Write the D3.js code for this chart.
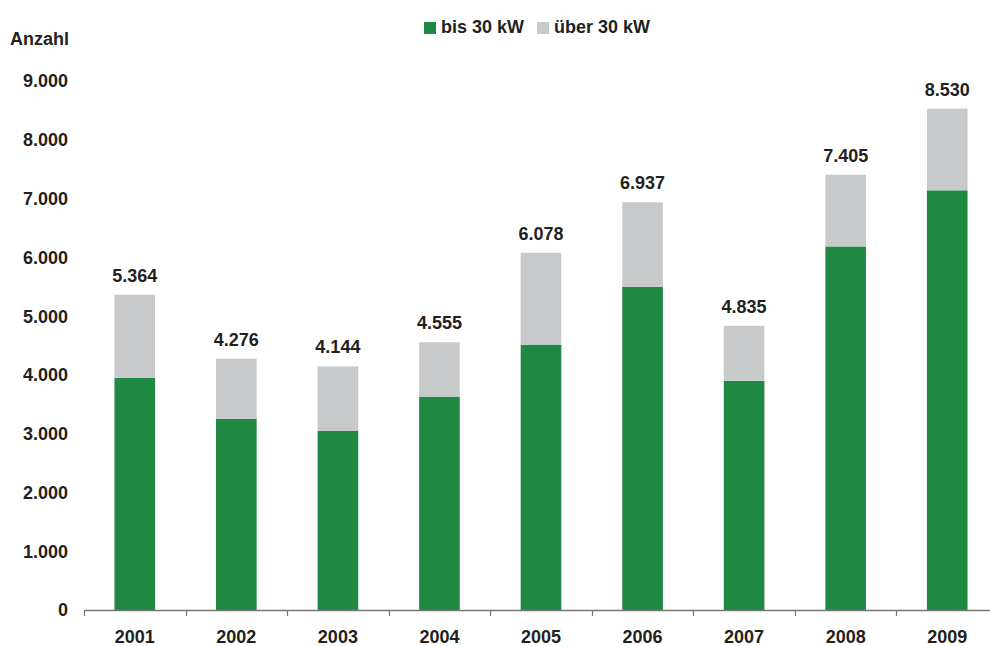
<!DOCTYPE html>
<head>
  <meta charset="utf-8">
  <script src="https://d3js.org/d3.v7.min.js"></script>
  <style>
    body { margin: 0; background: #fff; }
    text { font-family: "Liberation Sans", Arial, sans-serif; font-weight: bold; fill: #231f20; }
  </style>
</head>
<body>
  <div id="chart"></div>
  <script>
    var years = ["2001", "2002", "2003", "2004", "2005", "2006", "2007", "2008", "2009"];
    var bis30 = [3950, 3255, 3050, 3630, 4515, 5500, 3900, 6185, 7140];
    var totals = [5364, 4276, 4144, 4555, 6078, 6937, 4835, 7405, 8530];
    var ueber30 = totals.map(function(t, i) { return t - bis30[i]; });
    var yTicks = [0, 1000, 2000, 3000, 4000, 5000, 6000, 7000, 8000, 9000];
    var seriesNames = ["bis 30 kW", "über 30 kW"];
    var colors = ["#1f8843", "#c8c9cb"];

    var width = 990, height = 646;
    var svg = d3.select("#chart").append("svg")
      .attr("width", width).attr("height", height);

    var x = d3.scaleBand().domain(years).range([84, 998]).paddingInner(0.6).paddingOuter(0.3);
    var y = d3.scaleLinear().domain([0, 9000]).range([610, 81]);
    var fmt = function(v) { return d3.format(",")(v).replace(/,/g, "."); };

    var rows = years.map(function(yr, i) { return { year: yr, a: bis30[i], b: ueber30[i], total: totals[i] }; });
    var stack = d3.stack().keys(["a", "b"])(rows);

    svg.selectAll("g.layer").data(stack).enter().append("g")
      .attr("fill", function(d, i) { return colors[i]; })
      .selectAll("rect").data(function(d) { return d; }).enter().append("rect")
      .attr("x", function(d) { return x(d.data.year); })
      .attr("width", x.bandwidth())
      .attr("y", function(d) { return y(d[1]); })
      .attr("height", function(d) { return y(d[0]) - y(d[1]); });

    // totals above bars
    svg.selectAll("text.total").data(rows).enter().append("text")
      .attr("class", "total")
      .attr("x", function(d) { return x(d.year) + x.bandwidth() / 2; })
      .attr("y", function(d) { return y(d.total) - 13; })
      .attr("text-anchor", "middle")
      .style("font-size", "18px")
      .text(function(d) { return fmt(d.total); });

    // y labels, no axis line
    svg.selectAll("text.ytick").data(yTicks).enter().append("text")
      .attr("class", "ytick")
      .attr("x", 68)
      .attr("y", function(d) { return y(d); })
      .attr("dy", "0.36em")
      .attr("text-anchor", "end")
      .style("font-size", "18px")
      .text(fmt);

    // x axis line with ticks at band edges
    var xa = svg.append("g");
    xa.append("line").attr("x1", 84).attr("x2", 998).attr("y1", 610.5).attr("y2", 610.5)
      .attr("stroke", "#777").attr("stroke-width", 1.5);
    var edges = years.map(function(yr) { return x(yr) - x.step() * x.paddingInner() / 2; }).concat([998]);
    xa.selectAll("line.tk").data(edges).enter().append("line")
      .attr("x1", function(d) { return Math.round(d) + 0.5; })
      .attr("x2", function(d) { return Math.round(d) + 0.5; })
      .attr("y1", 610).attr("y2", 616)
      .attr("stroke", "#777").attr("stroke-width", 1.2);
    xa.selectAll("text").data(years).enter().append("text")
      .attr("x", function(d) { return x(d) + x.bandwidth() / 2; })
      .attr("y", 643)
      .attr("text-anchor", "middle")
      .style("font-size", "18px")
      .text(function(d) { return d; });

    svg.append("text").attr("x", 10).attr("y", 45).style("font-size", "18px").text("Anzahl");

    // legend
    var legX = [424, 537];
    seriesNames.forEach(function(name, i) {
      svg.append("rect").attr("x", legX[i]).attr("y", 22).attr("width", 12).attr("height", 12).attr("fill", colors[i]);
      svg.append("text").attr("x", legX[i] + 17).attr("y", 33).style("font-size", "18px").text(name);
    });
  </script>
</body>
